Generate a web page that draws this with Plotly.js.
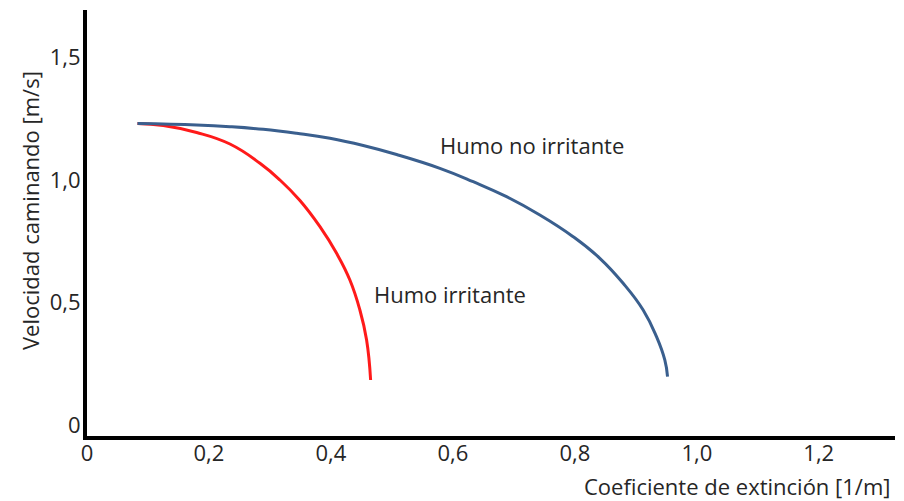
<!DOCTYPE html>
<html>
<head>
<meta charset="utf-8">
<script src="https://cdn.plot.ly/plotly-3.0.1.min.js"></script>
<style>html,body{margin:0;padding:0;background:#fff;}#chart{width:904px;height:501px;}</style>
</head>
<body>
<div id="chart"></div>
<script>
const irritanteX = [0.0828, 0.1251, 0.1798, 0.2344, 0.2836, 0.3164, 0.3492, 0.3820, 0.4093, 0.4311, 0.4475, 0.4585, 0.4651];
const irritanteY = [1.2306, 1.2225, 1.1940, 1.1469, 1.0682, 1.0000, 0.9163, 0.8094, 0.7008, 0.5918, 0.4694, 0.3469, 0.1837];
const noIrritanteX = [0.0828, 0.1798, 0.2344, 0.2890, 0.3438, 0.3984, 0.4530, 0.5077, 0.5787, 0.6333, 0.6880, 0.7426, 0.7972, 0.8410, 0.8792, 0.9120, 0.9339, 0.9475, 0.9520];
const noIrritanteY = [1.2306, 1.2245, 1.2176, 1.2069, 1.1906, 1.1702, 1.1408, 1.1041, 1.0478, 0.9931, 0.9318, 0.8571, 0.7686, 0.6804, 0.5784, 0.4694, 0.3604, 0.2653, 0.1971];
const xTickVals = [0, 0.2, 0.4, 0.6, 0.8, 1.0, 1.2];
const xTickText = ['0', '0,2', '0,4', '0,6', '0,8', '1,0', '1,2'];
const yTickVals = [0, 0.5, 1.0, 1.5];
const yTickText = ['0', '0,5', '1,0', '1,5'];
const seriesNames = ['Humo irritante', 'Humo no irritante'];
const xTitle = 'Coeficiente de extinción [1/m]';
const yTitle = 'Velocidad caminando [m/s]';

const font = "Open Sans, Noto Sans, sans-serif";
const txt = '#262626';
const fs = 22;

const traces = [
  {x: irritanteX, y: irritanteY, name: seriesNames[0], mode: 'lines', line: {color: '#ff1a1a', width: 3, shape: 'spline', smoothing: 1.3}},
  {x: noIrritanteX, y: noIrritanteY, name: seriesNames[1], mode: 'lines', line: {color: '#3a5f8e', width: 3, shape: 'spline', smoothing: 1.3}}
];

const ml = 87, mr = 9, mt = 10, mb = 65, W = 904, H = 501;
const pw = W - ml - mr, ph = H - mt - mb;
const px2paperX = p => (p - ml) / pw;
const px2paperY = p => (H - mb - p) / ph;

const layout = {
  width: W, height: H,
  margin: {l: ml, r: mr, t: mt, b: mb},
  paper_bgcolor: '#fff', plot_bgcolor: '#fff',
  showlegend: false,
  font: {family: font, size: fs, color: txt},
  xaxis: {
    range: [0, 1.325], showgrid: false, zeroline: false,
    showline: true, linecolor: '#000', linewidth: 4,
    tickvals: xTickVals, ticktext: xTickText, ticks: '', ticklabelstandoff: -5,
    tickfont: {family: font, size: fs, color: txt}
  },
  yaxis: {
    range: [-0.045, 1.694], showgrid: false, zeroline: false,
    showline: true, linecolor: '#000', linewidth: 4,
    tickvals: yTickVals, ticktext: yTickText, ticks: '', ticklabelstandoff: -2,
    tickfont: {family: font, size: fs, color: txt}
  },
  annotations: [
    {x: 0.575, y: 1.143, xref: 'x', yref: 'y', text: seriesNames[1], showarrow: false, xanchor: 'left', yanchor: 'middle', font: {family: font, size: fs, color: txt}},
    {x: 0.467, y: 0.535, xref: 'x', yref: 'y', text: seriesNames[0], showarrow: false, xanchor: 'left', yanchor: 'middle', font: {family: font, size: fs, color: txt}},
    {x: px2paperX(892), y: px2paperY(486), xref: 'paper', yref: 'paper', text: xTitle, showarrow: false, xanchor: 'right', yanchor: 'middle', font: {family: font, size: fs, color: txt}},
    {x: px2paperX(30), y: px2paperY(211), xref: 'paper', yref: 'paper', text: yTitle, showarrow: false, textangle: -90, xanchor: 'center', yanchor: 'middle', font: {family: font, size: fs, color: txt}}
  ]
};

Plotly.newPlot('chart', traces, layout, {displayModeBar: false, staticPlot: true});
</script>
</body>
</html>
